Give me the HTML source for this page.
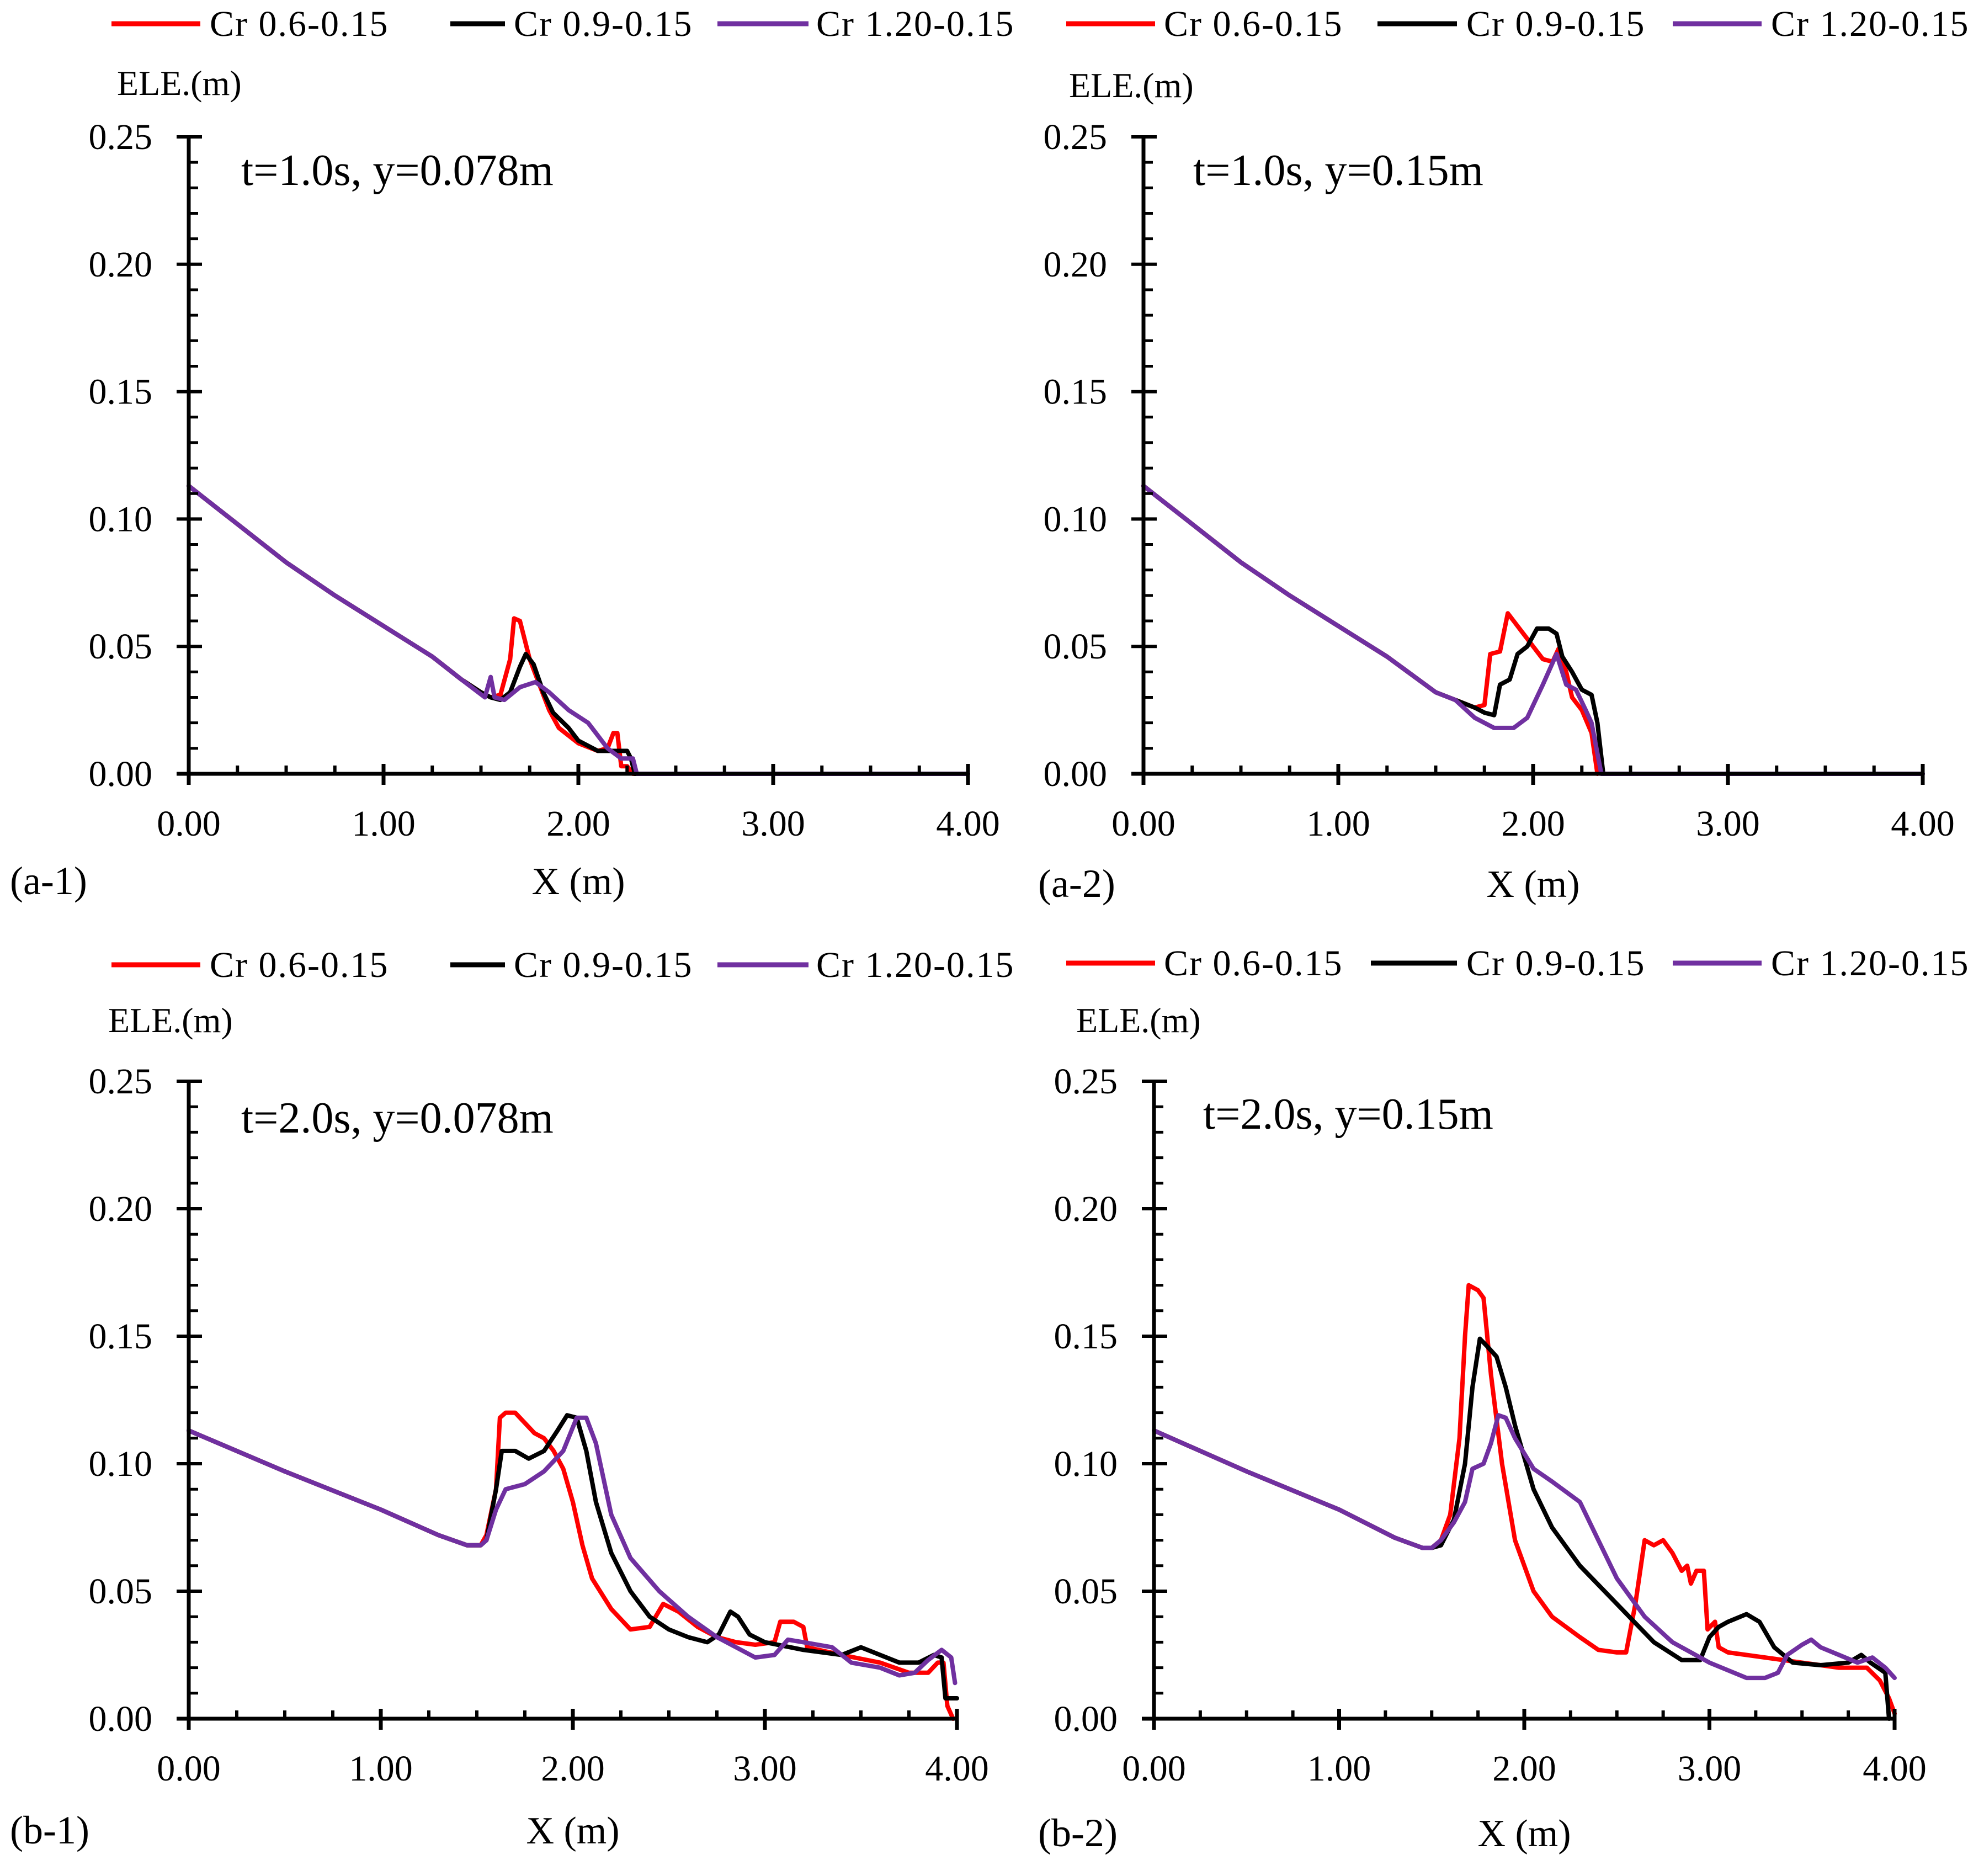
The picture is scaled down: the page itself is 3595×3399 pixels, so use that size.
<!DOCTYPE html>
<html><head><meta charset="utf-8"><style>
html,body{margin:0;padding:0;background:#fff;}
svg{display:block;}
text{font-family:"Liberation Serif","Times New Roman",serif;fill:#000;}
</style></head><body>
<svg id="chart" width="3595" height="3399" viewBox="0 0 3595 3399" xmlns="http://www.w3.org/2000/svg" font-family="Liberation Serif, Times New Roman, serif"></svg>
<script>
// ---------- data ----------
const xTicks=[0,1,2,3,4];
const xTickLabels=["0.00","1.00","2.00","3.00","4.00"];
const yTicks=[0,0.05,0.10,0.15,0.20,0.25];
const yTickLabels=["0.00","0.05","0.10","0.15","0.20","0.25"];
const seriesNames=["Cr 0.6-0.15","Cr 0.9-0.15","Cr 1.20-0.15"];
const seriesColors=["#ff0000","#000000","#7030a0"];

const a1RedX=[0,0.1,0.25,0.4,0.5,0.75,1.0,1.25,1.4,1.5,1.55,1.6,1.65,1.67,1.70,1.75,1.8,1.85,1.9,2.0,2.1,2.15,2.18,2.2,2.22,2.25,2.28,4.0];
const a1RedY=[0.113,0.107,0.098,0.089,0.083,0.070,0.058,0.046,0.037,0.032,0.030,0.031,0.045,0.061,0.060,0.045,0.035,0.025,0.018,0.012,0.009,0.010,0.016,0.016,0.003,0.003,0,0];
const a1BlackX=[0,0.1,0.25,0.4,0.5,0.75,1.0,1.25,1.4,1.5,1.55,1.6,1.65,1.7,1.73,1.77,1.82,1.87,1.95,2.0,2.1,2.2,2.25,2.27,2.29,4.0];
const a1BlackY=[0.113,0.107,0.098,0.089,0.083,0.070,0.058,0.046,0.037,0.032,0.030,0.029,0.032,0.042,0.047,0.043,0.032,0.024,0.018,0.013,0.009,0.009,0.009,0.006,0,0];
const a1PurpleX=[0,0.1,0.25,0.4,0.5,0.75,1.0,1.25,1.4,1.52,1.55,1.57,1.62,1.7,1.78,1.85,1.95,2.05,2.15,2.22,2.28,2.3,4.0];
const a1PurpleY=[0.113,0.107,0.098,0.089,0.083,0.070,0.058,0.046,0.037,0.030,0.038,0.030,0.029,0.034,0.036,0.032,0.025,0.020,0.010,0.006,0.006,0,0];

const a2RedX=[0,0.1,0.25,0.4,0.5,0.75,1.0,1.25,1.5,1.6,1.7,1.75,1.78,1.83,1.87,1.9,1.95,2.0,2.05,2.1,2.13,2.17,2.2,2.25,2.3,2.33];
const a2RedY=[0.113,0.107,0.098,0.089,0.083,0.070,0.058,0.046,0.032,0.029,0.026,0.027,0.047,0.048,0.063,0.060,0.055,0.050,0.045,0.044,0.049,0.040,0.030,0.025,0.016,0.0];
const a2BlackX=[0,0.1,0.25,0.4,0.5,0.75,1.0,1.25,1.5,1.6,1.7,1.75,1.8,1.83,1.88,1.92,1.97,2.02,2.08,2.12,2.15,2.2,2.25,2.3,2.33,2.36,4.0];
const a2BlackY=[0.113,0.107,0.098,0.089,0.083,0.070,0.058,0.046,0.032,0.029,0.026,0.024,0.023,0.035,0.037,0.047,0.050,0.057,0.057,0.055,0.046,0.040,0.033,0.031,0.020,0,0];
const a2PurpleX=[0,0.1,0.25,0.4,0.5,0.75,1.0,1.25,1.5,1.6,1.7,1.8,1.9,1.97,2.05,2.12,2.17,2.22,2.27,2.3,2.35,4.0];
const a2PurpleY=[0.113,0.107,0.098,0.089,0.083,0.070,0.058,0.046,0.032,0.029,0.022,0.018,0.018,0.022,0.035,0.047,0.035,0.033,0.025,0.020,0,0];

const b1RedX=[0,0.5,1.0,1.3,1.45,1.52,1.55,1.6,1.62,1.65,1.7,1.75,1.8,1.85,1.9,1.95,2.0,2.05,2.1,2.2,2.3,2.4,2.47,2.55,2.65,2.75,2.85,2.95,3.05,3.08,3.15,3.2,3.22,3.4,3.6,3.75,3.85,3.9,3.93,3.95,3.98];
const b1RedY=[0.113,0.097,0.082,0.072,0.068,0.068,0.072,0.090,0.118,0.120,0.120,0.116,0.112,0.110,0.105,0.098,0.085,0.068,0.055,0.043,0.035,0.036,0.045,0.042,0.036,0.032,0.030,0.029,0.030,0.038,0.038,0.036,0.028,0.025,0.022,0.018,0.018,0.022,0.022,0.005,0.0];
const b1BlackX=[0,0.5,1.0,1.3,1.45,1.52,1.55,1.6,1.63,1.7,1.77,1.85,1.92,1.97,2.02,2.07,2.12,2.2,2.3,2.4,2.5,2.6,2.7,2.76,2.82,2.86,2.92,3.0,3.2,3.4,3.5,3.6,3.7,3.8,3.88,3.92,3.94,4.0];
const b1BlackY=[0.113,0.097,0.082,0.072,0.068,0.068,0.070,0.090,0.105,0.105,0.102,0.105,0.113,0.119,0.118,0.105,0.085,0.065,0.050,0.040,0.035,0.032,0.030,0.033,0.042,0.040,0.033,0.030,0.027,0.025,0.028,0.025,0.022,0.022,0.025,0.024,0.008,0.008];
const b1PurpleX=[0,0.5,1.0,1.3,1.45,1.52,1.55,1.6,1.65,1.75,1.85,1.95,2.02,2.07,2.12,2.2,2.3,2.45,2.6,2.75,2.85,2.95,3.05,3.12,3.2,3.35,3.45,3.6,3.7,3.78,3.85,3.92,3.97,3.99];
const b1PurpleY=[0.113,0.097,0.082,0.072,0.068,0.068,0.070,0.082,0.090,0.092,0.097,0.105,0.118,0.118,0.108,0.080,0.063,0.050,0.040,0.032,0.028,0.024,0.025,0.031,0.030,0.028,0.022,0.020,0.017,0.018,0.023,0.027,0.024,0.014];

const b2RedX=[0,0.5,1.0,1.3,1.45,1.5,1.55,1.6,1.65,1.68,1.7,1.75,1.78,1.82,1.88,1.95,2.05,2.15,2.3,2.4,2.5,2.55,2.6,2.65,2.7,2.75,2.8,2.85,2.88,2.9,2.93,2.97,2.99,3.03,3.05,3.1,3.3,3.5,3.7,3.85,3.92,3.97,4.0];
const b2RedY=[0.113,0.097,0.082,0.071,0.067,0.067,0.070,0.080,0.110,0.150,0.170,0.168,0.165,0.135,0.100,0.070,0.050,0.040,0.032,0.027,0.026,0.026,0.045,0.070,0.068,0.070,0.065,0.058,0.060,0.053,0.058,0.058,0.035,0.038,0.028,0.026,0.024,0.022,0.020,0.020,0.015,0.008,0.002];
const b2BlackX=[0,0.5,1.0,1.3,1.45,1.5,1.55,1.62,1.68,1.72,1.76,1.8,1.85,1.9,1.95,2.05,2.15,2.3,2.5,2.7,2.85,2.95,3.0,3.05,3.1,3.2,3.27,3.35,3.45,3.6,3.75,3.82,3.87,3.95,3.97];
const b2BlackY=[0.113,0.097,0.082,0.071,0.067,0.067,0.068,0.078,0.100,0.130,0.149,0.146,0.142,0.130,0.115,0.090,0.075,0.060,0.045,0.030,0.023,0.023,0.032,0.036,0.038,0.041,0.038,0.028,0.022,0.021,0.022,0.025,0.022,0.018,0.0];
const b2PurpleX=[0,0.5,1.0,1.3,1.45,1.5,1.55,1.62,1.68,1.72,1.78,1.82,1.86,1.9,1.95,2.05,2.15,2.3,2.4,2.5,2.65,2.8,3.0,3.2,3.3,3.37,3.42,3.5,3.55,3.6,3.7,3.8,3.88,3.95,4.0];
const b2PurpleY=[0.113,0.097,0.082,0.071,0.067,0.067,0.070,0.077,0.085,0.098,0.100,0.108,0.119,0.118,0.110,0.098,0.093,0.085,0.070,0.055,0.040,0.030,0.022,0.016,0.016,0.018,0.025,0.029,0.031,0.028,0.025,0.022,0.024,0.020,0.016];

// ---------- layout ----------
const panels=[
 {id:"a-1",x0:342,x1:1754,y0:1402,y1:248,ann:"t=1.0s, y=0.078m",annX:437,annY:335,
  legY:43,leg:[[202,363,380],[816,915,931],[1300,1465,1479]],eleX:212,eleY:172,labX:18,labY:1620,
  xs:[a1RedX,a1BlackX,a1PurpleX],ys:[a1RedY,a1BlackY,a1PurpleY]},
 {id:"a-2",x0:2072,x1:3484,y0:1402,y1:248,ann:"t=1.0s, y=0.15m",annX:2162,annY:335,
  legY:43,leg:[[1932,2093,2109],[2496,2640,2657],[3031,3192,3209]],eleX:1937,eleY:176,labX:1881,labY:1625,
  xs:[a2RedX,a2BlackX,a2PurpleX],ys:[a2RedY,a2BlackY,a2PurpleY]},
 {id:"b-1",x0:342,x1:1734,y0:3114,y1:1959,ann:"t=2.0s, y=0.078m",annX:437,annY:2052,
  legY:1748,leg:[[202,363,380],[816,915,931],[1300,1465,1479]],eleX:196,eleY:1870,labX:18,labY:3340,
  xs:[b1RedX,b1BlackX,b1PurpleX],ys:[b1RedY,b1BlackY,b1PurpleY]},
 {id:"b-2",x0:2091,x1:3433,y0:3114,y1:1959,ann:"t=2.0s, y=0.15m",annX:2180,annY:2045,
  legY:1745,leg:[[1932,2093,2109],[2484,2640,2657],[3031,3192,3209]],eleX:1950,eleY:1870,labX:1881,labY:3345,
  xs:[b2RedX,b2BlackX,b2PurpleX],ys:[b2RedY,b2BlackY,b2PurpleY]}
];
const NS="http://www.w3.org/2000/svg";
const FF="Liberation Serif, Times New Roman, serif";
const svg=document.getElementById("chart");
function mk(tag,attrs,parent){const e=document.createElementNS(NS,tag);for(const k in attrs)e.setAttribute(k,attrs[k]);parent.appendChild(e);return e;}
function txt(s,attrs,parent){attrs["font-family"]=FF;const e=mk("text",attrs,parent);e.textContent=s;return e;}

panels.forEach(p=>{
  const g=mk("g",{},svg);
  
  
  const sx=v=>p.x0+(v/4)*(p.x1-p.x0);
  const sy=v=>p.y0-(v/0.25)*(p.y0-p.y1);
  for(let s=0;s<3;s++){
    let d="";
    p.xs[s].forEach((xv,i)=>{d+=(i?"L":"M")+sx(xv).toFixed(1)+","+sy(p.ys[s][i]).toFixed(1);});
    const path=mk("path",{d:d,fill:"none",stroke:seriesColors[s],"stroke-width":8,"stroke-linejoin":"round","stroke-linecap":"round"},g);
    
    
  }
  const ax=mk("g",{stroke:"#000"},g);
  
  
  mk("line",{x1:p.x0,y1:p.y1,x2:p.x0,y2:p.y0+20,"stroke-width":7},ax);
  mk("line",{x1:p.x0-22,y1:p.y0,x2:p.x1+2,y2:p.y0,"stroke-width":7},ax);
  for(let v=0;v<=0.2501;v+=0.01){
    const y=sy(v);const major=Math.abs(v/0.05-Math.round(v/0.05))<1e-6;
    mk("line",{x1:major?p.x0-22:p.x0,y1:y,x2:p.x0+(major?24:17),y2:y,"stroke-width":major?6:5},ax);
  }
  for(let v=0;v<=4.0001;v+=0.25){
    const x=sx(v);const major=Math.abs(v-Math.round(v))<1e-6;
    mk("line",{x1:x,y1:p.y0-(major?18:15),x2:x,y2:p.y0+(major?20:0),"stroke-width":major?7:6},ax);
  }
  yTicks.forEach((v,i)=>{const t=txt(yTickLabels[i],{x:p.x0-66,y:sy(v)+22,"font-size":66,"text-anchor":"end"},g);
    });
  xTicks.forEach((v,i)=>{const t=txt(xTickLabels[i],{x:sx(v),y:p.y0+112,"font-size":66,"text-anchor":"middle"},g);
    });
  const xt=txt("X (m)",{x:(sx(2)),y:p.labY,"font-size":70,"text-anchor":"middle"},g);
  
  const yt=txt("ELE.(m)",{x:p.eleX,y:p.eleY,"font-size":64},g);
  
  const pl=txt("("+p.id+")",{x:p.labX,y:p.labY,"font-size":72},g);
  
  const an=txt(p.ann,{x:p.annX,y:p.annY,"font-size":80},g);
  
  const lg=mk("g",{},g);
  
  
  p.leg.forEach((L,s)=>{
    const e=mk("g",{},lg);
    
    
    mk("line",{x1:L[0],y1:p.legY,x2:L[1],y2:p.legY,stroke:seriesColors[s],"stroke-width":9},e);
    txt(seriesNames[s],{x:L[2],y:p.legY+22,"font-size":66,"letter-spacing":2},e);
  });
});
</script>
</body></html>
